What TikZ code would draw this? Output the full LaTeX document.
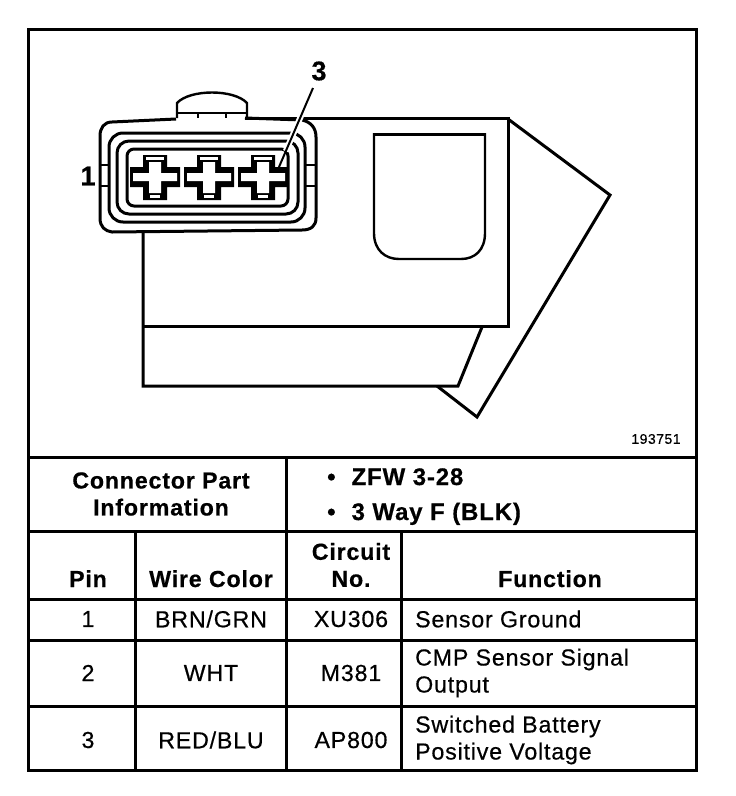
\documentclass[tikz,border=0pt]{standalone}
\usepackage{fontspec}
\usetikzlibrary{calc}
\setmainfont[LetterSpace=3.5,RawFeature={embolden=0.5}]{Liberation Sans}
\tikzset{
  thick line/.style={draw=black,line width=3pt},
  med line/.style={draw=black,line width=2.4pt},
  cell/.style={inner sep=0pt,font=\fontsize{23.2}{27}\selectfont,align=center,text=black},
  head/.style={cell,font=\fontsize{23.2}{27}\selectfont\bfseries},
  lefty/.style={cell,align=left,anchor=west}
}
\begin{document}
\begin{tikzpicture}[x=1pt,y=-1pt]
\useasboundingbox (0,0) rectangle (736,796);
% frame
\draw[thick line] (28,29) rectangle (696,770);
\foreach \y in {457,531,599,640,706} \draw[thick line] (28,\y) -- (696,\y);
\draw[thick line] (286,457) -- (286,770);
\foreach \x in {135,401} \draw[thick line] (\x,531) -- (\x,770);
% body
\draw[thick line] (143,232) -- (143,386) -- (458,386) -- (482,327);
\draw[thick line] (143,326) -- (508,326) -- (508,118) -- (245,118);
\draw[thick line,line join=miter] (508,119) -- (610,195) -- (477,417) -- (437,386);
% window
\draw[med line] (374,133) -- (374,233) .. controls (374,250) and (385,259) .. (399,259) -- (461,259) .. controls (475,259) and (485,250) .. (485,233) -- (485,133);
\draw[thick line] (373,134) -- (486,134);
% tab
\draw[med line] (177,118) -- (177,103) .. controls (190,89) and (234,89) .. (247,103) -- (247,118);
\draw[med line] (177,113) -- (247,113);
\foreach \x in {198,226} \draw[med line] (\x,113) -- (\x,118);
% connector shell
\fill[white,rounded corners=14pt] (100,122) rectangle (317,231);
\draw[thick line] (176,119) -- (112,122) .. controls (104,122) and (100,128) .. (100,136) -- (100,218) .. controls (100,227) and (105,231) .. (112,232) -- (302,230) .. controls (311,230) and (316,226) .. (316,218) -- (316,137) .. controls (316,128) and (311,122) .. (302,120) -- (245,118);
\draw[thick line,rounded corners=14pt] (109,133) rectangle (305,222);
\draw[thick line,rounded corners=12pt] (117,141) rectangle (298,214);
\draw[thick line,rounded corners=7pt] (127,149) rectangle (288,206);
\foreach \y in {165,186} { \draw[med line] (100,\y) -- (109,\y); \draw[med line] (305,\y) -- (316,\y); }
% pins
\foreach \c in {155,209,263} {
  \begin{scope}[shift={(\c,177)}]
    \fill[black] (-12,-22) -- (12,-22) -- (12,-10) -- (25,-10) -- (25,10) -- (12,10) -- (12,23) -- (-12,23) -- (-12,10) -- (-25,10) -- (-25,-10) -- (-12,-10) -- cycle;
    \fill[white] (-6,-15) -- (6,-15) -- (6,-4) -- (22,-4) -- (22,4) -- (6,4) -- (6,16) -- (-6,16) -- (-6,4) -- (-22,4) -- (-22,-4) -- (-6,-4) -- cycle;
    \fill[white] (-9,-20) rectangle (9,-17.5);
    \fill[white] (-5,18) rectangle (5,20.5);
  \end{scope}
}
% callouts
\node[cell,font=\fontsize{27}{27}\selectfont\bfseries] (n3) at (319,71) {3};
\node[cell,font=\fontsize{27}{27}\selectfont\bfseries] (n1) at (88,176) {1};
\node[cell,font=\fontsize{14}{16}\selectfont] (num) at (656,439) {193751};
\coordinate (pinthree) at (279,167);
\coordinate (labelend) at (313,88);
\draw[white,line width=6pt] ($(labelend)!0.2!(pinthree)$) -- ($(labelend)!0.8!(pinthree)$);
\draw[draw=black,line width=2pt] (labelend) -- (pinthree);
% table text
\node[head] (cpi) at (161,494) {Connector Part\\Information};
\node[head,font=\fontsize{24}{27}\selectfont\bfseries,anchor=base west] (b1) at (327,485) {\textbullet\hspace{16pt}ZFW 3-28};
\node[head,font=\fontsize{24}{27}\selectfont\bfseries,anchor=base west] (b2) at (327,520) {\textbullet\hspace{16pt}3 Way F (BLK)};
\node[head,anchor=base] (h1) at (88,587) {Pin};
\node[head,anchor=base] (h2) at (211,587) {Wire Color};
\node[head] (h3) at (351,565) {Circuit\\No.};
\node[head,anchor=base] (h4) at (550,587) {Function};
\node[cell] (r1a) at (88,619) {1};
\node[cell] (r1b) at (211,619) {BRN/GRN};
\node[cell] (r1c) at (351,619) {XU306};
\node[lefty] (r1d) at (415,619) {Sensor Ground};
\node[cell] (r2a) at (88,673) {2};
\node[cell] (r2b) at (211,673) {WHT};
\node[cell] (r2c) at (351,673) {M381};
\node[lefty] (r2d) at (415,673) {CMP Sensor Signal\\Output};
\node[cell] (r3a) at (88,740) {3};
\node[cell] (r3b) at (211,740) {RED/BLU};
\node[cell] (r3c) at (351,740) {AP800};
\node[lefty] (r3d) at (415,740) {Switched Battery\\Positive Voltage};
\end{tikzpicture}
\end{document}
